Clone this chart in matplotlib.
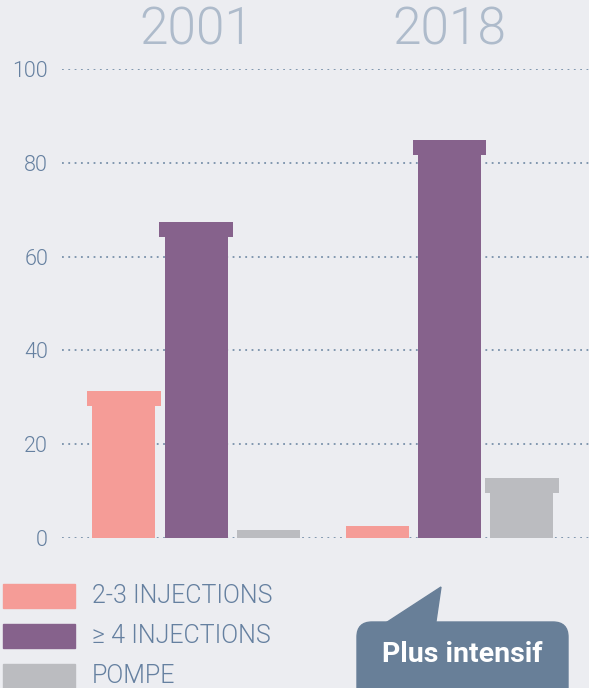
import matplotlib
matplotlib.use("Agg")
import matplotlib.pyplot as plt
from matplotlib.patches import Rectangle, FancyBboxPatch, Polygon

# data
years = ['2001', '2018']
series = ['2-3 INJECTIONS', '\u2265 4 INJECTIONS', 'POMPE']
values = {
    '2-3 INJECTIONS': [31.3, 2.6],
    '\u2265 4 INJECTIONS': [67.4, 84.9],
    'POMPE': [1.7, 12.8],
}
yticks = [0, 20, 40, 60, 80, 100]
callout = 'Plus intensif'

colors = ['#f59c97', '#86628c', '#bbbcc0']
bg = '#ecedf1'
txt = '#6580a0'

plt.rcParams['font.family'] = ['Roboto', 'DejaVu Sans']

fig = plt.figure(figsize=(5.89, 6.88), dpi=100)
fig.patch.set_facecolor(bg)

W, H = 589, 688
ax = fig.add_axes([62 / W, (H - 538) / H, (W - 62) / W, 469 / H])
ax.set_facecolor(bg)
ax.set_xlim(-0.529, 1.55)
ax.set_ylim(0, 100)

bw = 0.249
step = 0.285
cap_h = 3.2
cap_w = 0.29
for i, name in enumerate(series):
    for g, v in enumerate(values[name]):
        x = g + (i - 1) * step
        if v > 6:
            ax.bar(x, v - cap_h, width=bw, color=colors[i], zorder=3)
            ax.bar(x, cap_h, bottom=v - cap_h, width=cap_w, color=colors[i], zorder=3)
        else:
            ax.bar(x, v, width=bw, color=colors[i], zorder=3)

for t in yticks:
    ax.axhline(t, color='#7890aa', lw=1.3, ls=(0, (1, 2.5)), zorder=1)
ax.set_yticks(yticks)
ax.set_yticklabels([str(t) for t in yticks], fontsize=15.5, color=txt,
                   fontweight=300)
ax.tick_params(axis='y', length=0, pad=10)
ax.set_xticks([])
for s in ax.spines.values():
    s.set_visible(False)

for g, yr in enumerate(years):
    ax.text(g, 102.8, yr, ha='center', va='bottom', fontsize=37,
            color='#aebbcb', fontweight=300, clip_on=False)

# overlay for legend and callout, in pixel units
ov = fig.add_axes([0, 0, 1, 1])
ov.set_xlim(0, W)
ov.set_ylim(H, 0)
ov.axis('off')
ov.patch.set_alpha(0)

for i, name in enumerate(series):
    y0 = 584 + i * 40
    ov.add_patch(Rectangle((3, y0), 72, 24, color=colors[i]))
    ov.text(92, y0 + 12, name, va='center', ha='left', fontsize=18,
            color=txt, fontweight=300)

cc = '#687f98'
ov.add_patch(Polygon([(378, 628), (441, 587), (435, 628)], closed=True, color=cc))
ov.add_patch(FancyBboxPatch((357, 622), 211, 80,
                            boxstyle='round,pad=0,rounding_size=15', color=cc))
ov.text(462, 655, callout, ha='center', va='center', fontsize=20.5,
        fontweight='bold', color='white')

fig.savefig('out.png', dpi=100, facecolor=bg)
